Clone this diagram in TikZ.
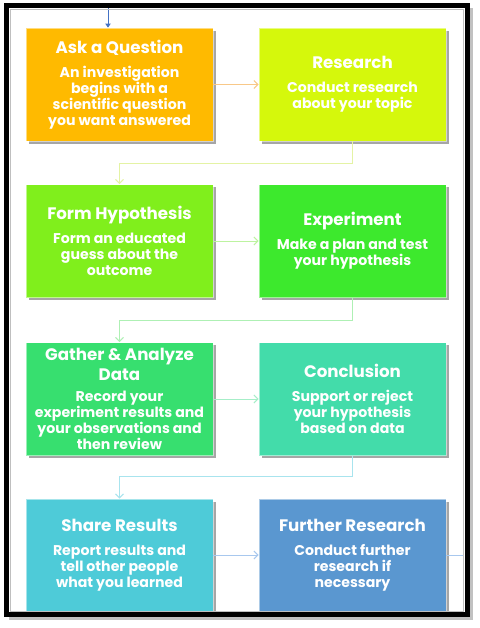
\documentclass[tikz,border=0pt]{standalone}
\usepackage{fontspec}
\setmainfont{Poppins}
\usetikzlibrary{shadows,arrows.meta}
\definecolor{cAsk}{HTML}{FFBA00}
\definecolor{cRes}{HTML}{D5F80C}
\definecolor{cForm}{HTML}{80EF1C}
\definecolor{cExp}{HTML}{3DE92D}
\definecolor{cGat}{HTML}{37DF6F}
\definecolor{cCon}{HTML}{43DCAA}
\definecolor{cSha}{HTML}{4ECBD8}
\definecolor{cFur}{HTML}{5A97D0}
\definecolor{lAsk}{HTML}{F8C888}
\definecolor{lRes}{HTML}{E4F3A4}
\definecolor{lForm}{HTML}{BDF3A0}
\definecolor{lExp}{HTML}{AEF0B4}
\definecolor{lGat}{HTML}{A6EEC8}
\definecolor{lCon}{HTML}{A8E4EE}
\definecolor{lSha}{HTML}{A8C8EE}
\definecolor{topblue}{HTML}{4472C4}
\newcommand{\ttl}[1]{{\fontsize{12.5}{15}\selectfont #1}}
\begin{document}
\begin{tikzpicture}[x=0.75pt,y=-0.75pt,
  stepbox/.style={rectangle, minimum width=140.25pt, minimum height=84.75pt,
    draw=white, draw opacity=0.5, line width=0.6pt, text=white, align=center,
    inner sep=0pt, font=\fontsize{10.6}{12}\bfseries\selectfont,
    drop shadow={shadow xshift=2.2pt, shadow yshift=-2.2pt, opacity=0.35, fill=black}},
  conn/.style={line width=0.75pt, -{Straight Barb[length=3pt,width=6pt]}},
  plain/.style={line width=0.75pt}]
\useasboundingbox (0,0) rectangle (479,628);
\fill[white] (0,0) rectangle (479,628);

\node[stepbox, fill=cAsk] (ask) at (119.5,84.5) {\ttl{Ask a Question}\\[6pt]
  An investigation\\ begins with a\\ scientific question\\ you want answered};
\node[stepbox, fill=cRes] (res) at (352.5,84.5) {\ttl{Research}\\[6pt]
  Conduct research\\ about your topic};
\node[stepbox, fill=cForm] (form) at (119.5,241) {\ttl{Form Hypothesis}\\[6pt]
  Form an educated\\ guess about the\\ outcome};
\node[stepbox, fill=cExp] (exp) at (352.5,241) {\ttl{Experiment}\\[6pt]
  Make a plan and test\\ your hypothesis};
\node[stepbox, fill=cGat] (gat) at (119.5,399) {\ttl{Gather \& Analyze}\\[2pt] \ttl{Data}\\[4pt]
  Record your\\ experiment results and\\ your observations and\\ then review};
\node[stepbox, fill=cCon] (con) at (352.5,399) {\ttl{Conclusion}\\[6pt]
  Support or reject\\ your hypothesis\\ based on data};
\node[stepbox, fill=cSha, minimum height=84pt] (sha) at (119.5,555) {\ttl{Share Results}\\[6pt]
  Report results and\\ tell other people\\ what you learned};
\node[stepbox, fill=cFur, minimum height=84pt] (fur) at (352.5,555) {\ttl{Further Research}\\[6pt]
  Conduct further\\ research if\\ necessary};

\coordinate (top) at (108,5);
\coordinate (rightend) at (463,555);
\draw[line width=0.75pt, topblue, -{Triangle[length=3pt,width=4pt]}] (top) -- (top |- ask.north);
\draw[conn, lAsk] (ask) -- (res);
\draw[conn, lRes] (res.south) -- ++(0,22) -| (form.north);
\draw[conn, lForm] (form) -- (exp);
\draw[conn, lExp] (exp.south) -- ++(0,23) -| (gat.north);
\draw[conn, lGat] (gat) -- (con);
\draw[conn, lCon] (con.south) -- ++(0,21) -| (sha.north);
\draw[conn, lSha] (sha) -- (fur);
\draw[plain, lSha] (fur) -- (rightend);

% frame
\draw[black!25, line width=0.75pt] (10,9.5) rectangle (463,611);
\draw[black!40, draw opacity=0.6, line width=3pt] (470.5,8) -- (470.5,617.5) -- (9,617.5);
\draw[black, line width=3.75pt] (6,5) rectangle (467.5,614.5);
\end{tikzpicture}
\end{document}
